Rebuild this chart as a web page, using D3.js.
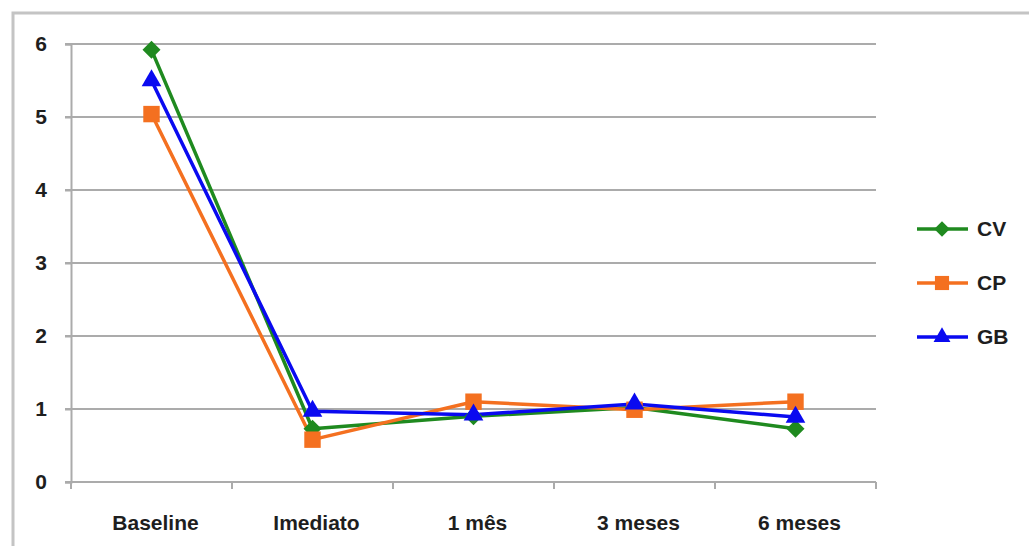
<!DOCTYPE html>
<html>
<head>
<meta charset="utf-8">
<script src="https://cdn.jsdelivr.net/npm/d3@7"></script>
<style>
  html, body { margin: 0; padding: 0; background: #fff; }
  svg { display: block; font-family: "Liberation Sans", Arial, sans-serif; }
</style>
</head>
<body>
<svg id="chart" width="1029" height="546"></svg>
<script>
// Time points of the follow-up
const categories = ["Baseline", "Imediato", "1 mês", "3 meses", "6 meses"];
// Group means at each time point
const cvValues = [5.92, 0.73, 0.90, 1.02, 0.73];
const cpValues = [5.04, 0.58, 1.10, 0.99, 1.10];
const gbValues = [5.50, 0.97, 0.92, 1.07, 0.89];
const yTicks = [0, 1, 2, 3, 4, 5, 6];
const seriesNames = ["CV", "CP", "GB"];

const series = [
  { name: seriesNames[0], values: cvValues, color: "#1f8a1f", shape: "diamond" },
  { name: seriesNames[1], values: cpValues, color: "#f47020", shape: "square" },
  { name: seriesNames[2], values: gbValues, color: "#0a0af0", shape: "triangle" }
];

const svg = d3.select("#chart");
const margin = { left: 71, right: 876, top: 44, bottom: 482 };
const fontSize = 21;
const textColor = "#1e1e1e";

// outer frame
svg.append("rect")
  .attr("x", 13).attr("y", 13)
  .attr("width", 1040).attr("height", 560)
  .attr("fill", "none").attr("stroke", "#c4c4c4").attr("stroke-width", 3);

const x = d3.scaleBand().domain(categories).range([margin.left, margin.right]).padding(0);
const y = d3.scaleLinear().domain([0, 6]).range([margin.bottom, margin.top]);

const gridColor = "#ababab";

// horizontal gridlines
svg.append("g")
  .selectAll("line")
  .data(yTicks)
  .join("line")
  .attr("x1", margin.left - 6).attr("x2", margin.right)
  .attr("y1", d => y(d)).attr("y2", d => y(d))
  .attr("stroke", gridColor).attr("stroke-width", 2);

// y axis
const yAxis = svg.append("g")
  .attr("transform", `translate(${margin.left},0)`)
  .call(d3.axisLeft(y).tickValues(yTicks).tickFormat(d3.format("d")).tickSize(6).tickPadding(18));
yAxis.select(".domain").attr("stroke", gridColor).attr("stroke-width", 2);
yAxis.selectAll(".tick line").attr("stroke", gridColor).attr("stroke-width", 2);
yAxis.selectAll(".tick text")
  .attr("fill", textColor).attr("font-size", fontSize).attr("font-weight", "bold")
  .attr("font-family", "'Liberation Sans', Arial, sans-serif");

// x axis with ticks between categories
const xAxis = svg.append("g")
  .attr("transform", `translate(0,${margin.bottom})`);
xAxis.append("line")
  .attr("x1", margin.left).attr("x2", margin.right)
  .attr("stroke", gridColor).attr("stroke-width", 2);
const boundaries = categories.map(c => x(c)).concat([x(categories[categories.length - 1]) + x.bandwidth()]);
xAxis.selectAll("line.tk")
  .data(boundaries)
  .join("line")
  .attr("class", "tk")
  .attr("x1", d => d).attr("x2", d => d)
  .attr("y1", 0).attr("y2", 7)
  .attr("stroke", gridColor).attr("stroke-width", 2);
xAxis.selectAll("text")
  .data(categories)
  .join("text")
  .attr("x", d => x(d) + x.bandwidth() / 2 + 4)
  .attr("y", 48)
  .attr("text-anchor", "middle")
  .attr("fill", textColor).attr("font-size", fontSize).attr("font-weight", "bold")
  .text(d => d);

// marker symbols
function symbolFor(shape, size) {
  if (shape === "diamond") return d3.symbol().type(d3.symbolSquare).size(size * 0.6)();
  if (shape === "square") return d3.symbol().type(d3.symbolSquare).size(size)();
  return d3.symbol().type(d3.symbolTriangle).size(size * 0.62)();
}
function markerTransform(shape, px, py) {
  return shape === "diamond" ? `translate(${px},${py}) rotate(45)` : `translate(${px},${py})`;
}

const line = d3.line()
  .x((d, i) => x(categories[i]) + x.bandwidth() / 2)
  .y(d => y(d));

const plot = svg.append("g");
series.forEach(s => {
  plot.append("path")
    .datum(s.values)
    .attr("fill", "none")
    .attr("stroke", s.color)
    .attr("stroke-width", 3.5)
    .attr("stroke-linejoin", "round")
    .attr("d", line);
});
series.forEach(s => {
  plot.append("g")
    .selectAll("path")
    .data(s.values)
    .join("path")
    .attr("d", symbolFor(s.shape, 270))
    .attr("transform", (d, i) => markerTransform(s.shape, x(categories[i]) + x.bandwidth() / 2, y(d)))
    .attr("fill", s.color);
});

// legend
const legend = svg.append("g");
const legendY = d3.scalePoint().domain(seriesNames).range([229, 337]);
series.forEach(s => {
  const ly = legendY(s.name);
  legend.append("line")
    .attr("x1", 917).attr("x2", 968)
    .attr("y1", ly).attr("y2", ly)
    .attr("stroke", s.color).attr("stroke-width", 3.5);
  legend.append("path")
    .attr("d", symbolFor(s.shape, 200))
    .attr("transform", markerTransform(s.shape, 942, ly))
    .attr("fill", s.color);
  legend.append("text")
    .attr("x", 977).attr("y", ly + 7)
    .attr("fill", textColor).attr("font-size", fontSize).attr("font-weight", "bold")
    .text(s.name);
});
</script>
</body>
</html>
